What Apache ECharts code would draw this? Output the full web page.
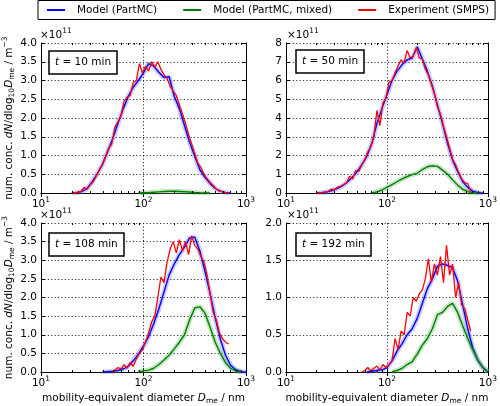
<!DOCTYPE html>
<html><head><meta charset="utf-8">
<script src="https://cdn.jsdelivr.net/npm/echarts@6/dist/echarts.min.js"></script>
<style>html,body{margin:0;padding:0;background:#fff}#c{width:500px;height:406px}</style>
</head><body><div id="c"></div>
<script>
// ---- data (values in units of 1e11 m^-3) ----
const modelD = [15.85,17.78,19.95,22.39,25.12,28.18,31.62,35.48,39.81,44.67,50.12,56.23,63.10,70.79,79.43,89.13,100,112.2,125.9,141.3,158.5,177.8,199.5,223.9,251.2,281.8,316.2,354.8,398.1,446.7,501.2,562.3,631.0,707.9,794.3,891.3,1000];
const expD = [19.95,21.38,22.91,24.55,26.30,28.18,30.20,32.36,34.67,37.15,39.81,42.66,45.71,48.98,52.48,56.23,60.26,64.57,69.18,74.13,79.43,85.11,91.20,97.72,104.7,112.2,120.2,128.8,138.0,147.9,158.5,169.8,182.0,195.0,208.9,223.9,239.9,257.0,275.4,295.1,316.2,338.8,363.1,389.0,416.9,446.7,478.6,512.9,549.5,588.8,631.0,676.1,724.4];

const blue10 = [null,null,0,0.01,0.04,0.12,0.3,0.52,0.76,1.1,1.45,1.85,2.23,2.57,2.82,3.0,3.2,3.45,3.38,3.22,3.08,3.1,2.58,2.25,1.8,1.35,0.98,0.62,0.42,0.25,0.12,0.05,0.01,0,null,null,null];
const green10 = [null,null,null,null,null,null,null,null,null,null,null,null,null,null,null,0,0.005,0.01,0.02,0.03,0.04,0.045,0.045,0.04,0.035,0.025,0.015,0.008,0.003,0,null,null,null,null,null,null,null];
const red10 = [0,0,0.02,0.04,0.15,0.1,0.22,0.3,0.45,0.62,0.78,0.98,1.2,1.3,1.75,1.9,2.05,2.45,2.55,2.6,2.95,3.0,3.45,3.2,3.38,3.25,3.5,3.35,3.5,3.3,3.15,3.05,2.85,2.72,2.6,2.35,2.1,1.85,1.55,1.3,1.05,0.8,0.68,0.5,0.38,0.28,0.2,0.1,0.05,0.03,0.01,0,null];

const blue50 = [null,null,0,0.02,0.05,0.12,0.22,0.35,0.55,0.8,1.1,1.5,1.95,2.65,3.7,4.5,5.25,6.0,6.5,6.85,7.1,7.2,7.8,7.15,6.5,5.7,4.7,3.7,2.65,1.75,1.15,0.6,0.3,0.1,0.02,0,null];
const green50 = [null,null,null,null,null,null,null,null,null,null,null,null,null,0,0.06,0.16,0.3,0.45,0.6,0.75,0.88,0.98,1.05,1.25,1.4,1.45,1.42,1.22,1.0,0.7,0.42,0.2,0.07,0.01,0,null,null];
const red50 = [0,0,0.02,0.05,0.1,0.2,0.18,0.3,0.35,0.45,0.55,0.9,0.75,1.2,1.15,1.5,1.75,2.2,2.45,3.0,4.4,3.6,4.8,5.05,5.9,6.0,6.4,6.8,7.1,6.95,7.6,7.2,7.3,7.75,7.2,7.15,6.6,6.3,5.8,5.3,4.6,4.2,3.55,3.0,2.4,1.8,1.5,1.1,0.75,0.55,0.5,0.05,null];

const blue108 = [null,null,null,null,null,null,null,null,0,0.01,0.02,0.04,0.08,0.15,0.3,0.48,0.7,0.95,1.3,1.7,2.15,2.6,2.9,3.15,3.35,3.6,3.62,3.25,2.7,2.1,1.45,0.88,0.45,0.18,0.06,0.01,0];
const green108 = [null,null,null,null,null,null,null,null,null,null,null,null,null,null,null,0,0.03,0.05,0.1,0.2,0.32,0.45,0.62,0.8,1.0,1.4,1.72,1.75,1.58,1.2,0.8,0.5,0.25,0.1,0.03,0,null];
const red108 = [null,null,null,null,null,null,null,null,null,null,null,null,null,0,0.05,0.12,0.08,0.2,0.1,0.25,0.15,0.35,0.5,0.6,0.8,1.05,1.35,1.5,2.0,2.55,2.4,2.95,3.3,3.5,3.2,3.55,3.25,3.5,3.15,3.65,3.4,3.3,3.1,2.95,2.6,2.1,1.6,1.4,1.05,0.9,0.8,0.75,null];

const blue192 = [null,null,null,null,null,null,null,null,null,null,null,null,0,0.01,0.02,0.03,0.06,0.15,0.28,0.38,0.5,0.58,0.72,0.92,1.12,1.25,1.42,1.45,1.43,1.4,1.22,0.9,0.58,0.32,0.16,0.06,0];
const green192 = [null,null,null,null,null,null,null,null,null,null,null,null,null,null,null,null,null,0,0.02,0.05,0.1,0.14,0.24,0.36,0.45,0.58,0.77,0.8,0.88,0.92,0.8,0.62,0.45,0.3,0.16,0.06,0];
const red192 = [null,null,null,null,null,null,null,null,null,null,null,null,null,null,null,0,0.02,0.06,0.01,0.05,0.08,0.03,0.1,0.06,0.1,0.15,0.45,0.3,0.55,0.5,0.8,0.75,1.0,0.95,1.05,1.1,1.25,1.52,1.2,1.45,1.3,1.55,1.2,1.7,1.3,1.45,1.0,1.2,0.9,0.85,0.7,0.55,null];

const panelTimes = ['10','50','108','192'];
const yMaxes = [4, 8, 4, 2];
const ySteps = [0.5, 1, 0.5, 0.5];
const xTickValues = [10, 100, 1000];
const xTickSup = ['1', '2', '3'];
const minorXTicks = [20,30,40,50,60,70,80,90,200,300,400,500,600,700,800,900];
const seriesNames = ['Model (PartMC)', 'Model (PartMC, mixed)', 'Experiment (SMPS)'];
const blueSets = [blue10, blue50, blue108, blue192];
const greenSets = [green10, green50, green108, green192];
const redSets = [red10, red50, red108, red192];

// ---- layout / style ----
const FONT = 'DejaVu Sans';
const FS = 10.5;
const rich = {
  n: {fontFamily: FONT, fontSize: FS, fontWeight: 'normal', color: '#000'},
  i: {fontFamily: FONT, fontSize: FS, fontWeight: 'normal', fontStyle: 'italic', color: '#000'},
  sub: {fontFamily: FONT, fontSize: 7.5, fontWeight: 'normal', color: '#000', padding: [6, 0, 0, 0]},
  sup: {fontFamily: FONT, fontSize: 7.5, fontWeight: 'normal', color: '#000', padding: [0, 0, 8, 0]}
};
const layout = [
  {left: 39, top: 43, width: 207, height: 150},
  {left: 286, top: 43, width: 205, height: 150},
  {left: 39, top: 223, width: 207, height: 151},
  {left: 286, top: 223, width: 205, height: 151}
];
const insetPos = [{left: 49, top: 51}, {left: 296, top: 50}, {left: 49, top: 233}, {left: 296, top: 233}];
const BLUE = '#0000ff', GREEN = '#008000', RED = '#ff0000';
const gridLine = {show: true, lineStyle: {color: '#000', width: 0.8, type: [1.2, 2.2]}};
const axLine = {show: true, lineStyle: {color: '#000', width: 1}};

function pairs(xs, ys) {
  const out = [];
  for (let i = 0; i < xs.length; i++) if (ys[i] !== null && ys[i] !== undefined) out.push([xs[i], ys[i]]);
  return out;
}
function xLabel(v) {
  for (let i = 0; i < xTickValues.length; i++) {
    if (Math.abs(v - xTickValues[i]) / xTickValues[i] < 1e-6) return '{n|10}{sup|' + xTickSup[i] + '}';
  }
  return '';
}

const grids = [], xAxes = [], yAxes = [], series = [], titles = [];
layout.forEach((g, gi) => {
  grids.push({left: g.left, top: g.top, width: g.width, height: g.height, containLabel: false});
  const bottomRow = gi >= 2, leftCol = gi % 2 === 0;
  xAxes.push({
    type: 'log', logBase: 10, min: 10, max: 1000, gridIndex: gi, position: 'bottom',
    axisLine: axLine, axisTick: {show: true, inside: true, length: 4, lineStyle: {color: '#000'}},
    axisLabel: {show: true, margin: 3, formatter: xLabel, rich: rich, showMinLabel: true, showMaxLabel: true, hideOverlap: false},
    splitLine: gridLine, minorTick: {show: false},
    name: bottomRow ? '{n|mobility-equivalent diameter }{i|D}{sub|me}{n| / nm}' : '',
    nameLocation: 'middle', nameGap: 19, nameTextStyle: {rich: rich}
  });
  xAxes.push({
    type: 'log', logBase: 10, min: 10, max: 1000, gridIndex: gi, position: 'top',
    axisLine: axLine, axisTick: {show: true, inside: true, length: 4, lineStyle: {color: '#000'}},
    axisLabel: {show: false}, splitLine: {show: false}
  });
  yAxes.push({
    type: 'value', min: 0, max: yMaxes[gi], interval: ySteps[gi], gridIndex: gi, position: 'left',
    axisLine: axLine, axisTick: {show: true, inside: true, length: 4, lineStyle: {color: '#000'}},
    axisLabel: {show: true, margin: 4, fontFamily: FONT, fontSize: FS, color: '#000',
      formatter: v => ySteps[gi] < 1 ? v.toFixed(1) : String(v), showMinLabel: true, showMaxLabel: true},
    splitLine: gridLine,
    name: leftCol ? '{n|num. conc. }{i|dN}{n|/dlog}{sub|10}{i|D}{sub|me}{n| / m}{sup|\u22123}' : '',
    nameLocation: 'middle', nameRotate: 90, nameGap: 24, nameTextStyle: {rich: rich}
  });
  yAxes.push({
    type: 'value', min: 0, max: yMaxes[gi], interval: ySteps[gi], gridIndex: gi, position: 'right',
    axisLine: axLine, axisTick: {show: true, inside: true, length: 4, lineStyle: {color: '#000'}},
    axisLabel: {show: false}, splitLine: {show: false}
  });
  const xi = gi * 2, yi = gi * 2;
  const base = {type: 'line', xAxisIndex: xi, yAxisIndex: yi, showSymbol: false, symbol: 'none', animation: false, silent: true, clip: true};
  series.push(Object.assign({}, base, {name: 'band-b' + gi, data: pairs(modelD, blueSets[gi]), lineStyle: {color: 'rgba(110,110,255,0.35)', width: 5}, z: 2}));
  series.push(Object.assign({}, base, {name: 'band-g' + gi, data: pairs(modelD, greenSets[gi]), lineStyle: {color: 'rgba(90,180,90,0.35)', width: 5}, z: 2}));
  series.push(Object.assign({}, base, {name: seriesNames[0], data: pairs(modelD, blueSets[gi]), color: BLUE, lineStyle: {color: BLUE, width: 1.4}, z: 3}));
  series.push(Object.assign({}, base, {name: seriesNames[1], data: pairs(modelD, greenSets[gi]), color: GREEN, lineStyle: {color: GREEN, width: 1.4}, z: 3}));
  series.push(Object.assign({}, base, {name: seriesNames[2], data: pairs(expD, redSets[gi]), color: RED, lineStyle: {color: RED, width: 1.3}, z: 4}));
  series.push({
    type: 'custom', name: 'minor' + gi, xAxisIndex: xi, yAxisIndex: yi, silent: true, animation: false, z: 5,
    data: minorXTicks.map(v => [v, 0]),
    renderItem: (params, api) => {
      const cs = params.coordSys;
      const px = Math.round(api.coord([api.value(0), 0])[0]) + 0.5;
      return {type: 'group', children: [
        {type: 'line', shape: {x1: px, y1: cs.y + cs.height, x2: px, y2: cs.y + cs.height - 2}, style: {stroke: '#000', lineWidth: 1}},
        {type: 'line', shape: {x1: px, y1: cs.y, x2: px, y2: cs.y + 2}, style: {stroke: '#000', lineWidth: 1}}
      ]};
    }
  });
  titles.push({
    text: '{i|t}{n| = ' + panelTimes[gi] + ' min}', left: insetPos[gi].left, top: insetPos[gi].top,
    padding: [6, 6], borderColor: '#000', borderWidth: 1.5, backgroundColor: '#fff',
    textStyle: {fontWeight: 'normal', rich: rich}
  });
  titles.push({
    text: '{n|\u00d710}{sup|11}', left: g.left + 1, top: g.top - 16, padding: 0,
    textStyle: {fontWeight: 'normal', rich: rich}
  });
});

const chart = echarts.init(document.getElementById('c'), null, {renderer: 'canvas'});
chart.setOption({
  backgroundColor: '#fff',
  animation: false,
  title: titles,
  legend: {
    data: seriesNames, left: 38, top: 0.5, padding: [4, 6, 4, 9], itemWidth: 18, itemHeight: 2, itemGap: 26,
    icon: 'rect', borderColor: '#000', borderWidth: 1, selectedMode: false,
    textStyle: {fontFamily: FONT, fontSize: FS, color: '#000', padding: [0, 0, 0, 7]}
  },
  grid: grids, xAxis: xAxes, yAxis: yAxes, series: series
});
</script></body></html>
